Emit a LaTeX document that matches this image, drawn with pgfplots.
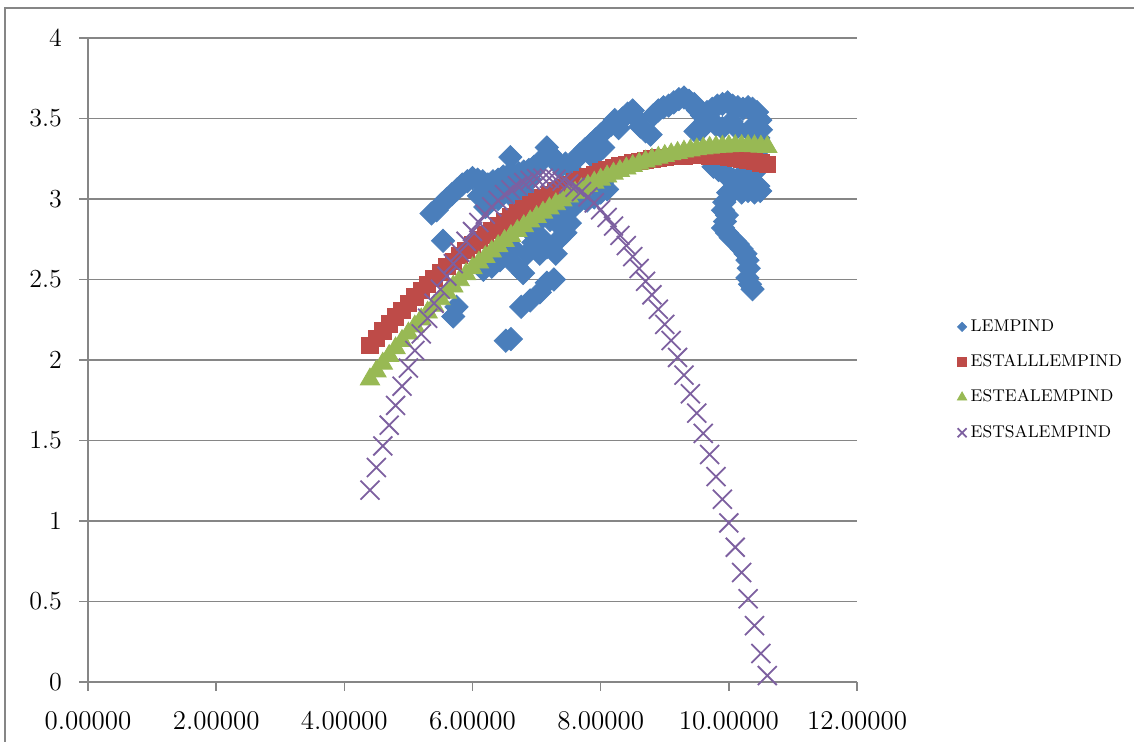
\documentclass[border=0pt]{standalone}
\usepackage{fontspec}
\usepackage{pgfplots}
\pgfplotsset{compat=1.18}
\definecolor{cblue}{HTML}{4A7EBB}
\definecolor{cred}{HTML}{BE4B48}
\definecolor{cgreen}{HTML}{98B954}
\definecolor{cpurple}{HTML}{7D60A0}
\definecolor{cgrid}{HTML}{868686}
\begin{document}
\begin{tikzpicture}
\path[use as bounding box] (0,0) rectangle (567pt,371pt);
\draw[cgrid, line width=0.8pt] (2.5pt,-5pt) -- (2.5pt,367pt) -- (570pt,367pt);
\begin{axis}[
  at={(44pt,30pt)}, anchor=south west,
  scale only axis, width=384.5pt, height=322pt,
  xmin=0, xmax=12, ymin=0, ymax=4,
  xtick={0,2,4,6,8,10,12}, ytick={0,0.5,1,1.5,2,2.5,3,3.5,4},
  axis x line*=bottom, axis y line*=left,
  axis line style={cgrid, line width=0.75pt},
  ymajorgrids, grid style={cgrid, line width=0.75pt},
  tick align=outside, major tick length=4.5pt,
  tick style={cgrid, line width=0.75pt},
  tick label style={font=\fontsize{13}{15}\selectfont},
  /pgf/number format/assume math mode=true,
  xticklabel style={yshift=-6.5pt, font=\fontsize{13.5}{15}\selectfont, /pgf/number format/.cd, fixed, fixed zerofill, precision=5, assume math mode=true},
  yticklabel style={xshift=-5pt, /pgf/number format/.cd, fixed, assume math mode=true},
  clip=false,
  legend style={at={(1.13,0.469)}, anchor=west, draw=none, fill=none, inner sep=0pt,
    font=\fontsize{8.5}{10}\selectfont, row sep=6.1pt, cells={anchor=west}},
  legend cell align=left,
]
\addplot[only marks, mark=square*, mark size=4.1pt, mark options={rotate=45, draw=cblue, fill=cblue},
  legend image code/.code={\draw[draw=cblue, fill=cblue, mark=square*, mark size=1.6pt, mark options={rotate=45}] plot coordinates {(0pt,0pt)};}]
coordinates {
(5.36,2.91) (5.44,2.93) (5.52,2.97) (5.60,3.00) (5.68,3.03) (5.76,3.06) (5.84,3.09) (5.92,3.11)
(6.00,3.13) (6.08,3.12) (6.16,3.11) (6.24,3.09) (6.32,3.11) (6.40,3.12) (6.48,3.14) (6.56,3.15)
(6.59,3.26) (6.64,3.15) (6.72,3.16) (6.80,3.17) (6.88,3.18) (6.96,3.20) (7.04,3.22) (7.12,3.26)
(7.16,3.32) (7.21,3.28) (7.28,3.25) (7.37,3.20) (7.45,3.22) (7.52,3.19) (7.60,3.24) (7.68,3.28)
(7.76,3.31) (7.84,3.34) (7.88,3.26) (7.92,3.37) (8.00,3.40) (8.04,3.32) (8.08,3.43) (8.16,3.46)
(8.22,3.49) (8.28,3.44) (8.34,3.50) (8.42,3.53) (8.50,3.55) (8.56,3.50) (8.62,3.45) (8.70,3.42)
(8.78,3.40) (8.82,3.52) (8.90,3.55) (8.98,3.57) (9.06,3.58) (9.14,3.60) (9.22,3.62) (9.30,3.63)
(9.38,3.61) (9.46,3.59) (9.52,3.55) (9.58,3.52) (9.64,3.49) (9.56,3.43) (9.48,3.42) (9.66,3.54)
(9.74,3.56) (9.82,3.58) (9.90,3.59) (9.98,3.60) (10.06,3.58) (10.14,3.57) (10.22,3.56) (10.30,3.57)
(10.37,3.56) (10.44,3.54) (10.49,3.49) (10.50,3.43) (10.46,3.38) (10.38,3.40) (9.80,3.46) (9.90,3.44)
(10.04,3.48) (10.12,3.44) (10.40,3.46) (10.46,3.30)
(9.84,3.18) (9.92,3.16) (10.00,3.14) (10.07,3.12) (10.15,3.13) (10.22,3.15) (10.30,3.12) (10.38,3.10)
(10.46,3.08) (10.49,3.05) (10.40,3.04) (10.30,3.05) (10.20,3.04) (10.10,3.06) (9.99,3.04) (9.93,2.98)
(9.76,3.20) (10.44,3.18) (10.36,3.22)
(9.91,2.93) (9.97,2.90) (9.94,2.86) (9.91,2.82) (9.97,2.79) (10.03,2.76) (10.09,2.74) (10.14,2.72)
(10.20,2.69) (10.26,2.66) (10.29,2.62) (10.31,2.57) (10.29,2.51) (10.33,2.47) (10.37,2.44)
(6.17,2.56) (6.30,2.58) (6.43,2.62) (6.55,2.66) (6.62,2.70) (6.69,2.58) (6.79,2.54) (6.85,2.66)
(6.95,2.73) (7.05,2.77) (7.05,2.66) (7.16,2.70) (7.21,2.87) (7.30,2.66) (7.35,2.75) (7.32,2.85)
(7.45,2.79) (7.52,2.85) (7.47,2.91) (7.58,2.95) (7.68,2.99) (7.79,2.99) (7.90,3.01) (8.00,3.04)
(8.10,3.06) (8.02,3.10) (7.70,3.04) (7.40,2.95) (7.00,2.85) (6.90,2.80) (6.20,2.95) (6.40,3.00)
(6.60,3.02) (6.80,3.05) (6.10,3.02) (6.30,3.04) (6.50,3.06) (6.70,3.10) (6.90,3.12)
(7.16,2.48) (7.27,2.50) (7.05,2.42) (6.90,2.37) (6.76,2.33) (6.52,2.12)
(6.60,2.13) (5.75,2.33) (5.70,2.27) (5.54,2.74)
};
\addlegendentry{LEMPIND}
\addplot[only marks, mark=square*, mark size=4.1pt, mark options={draw=cred, fill=cred},
  legend image code/.code={\draw[draw=cred, fill=cred, mark=square*, mark size=2.3pt] plot coordinates {(0pt,0pt)};}]
coordinates {
(4.4,2.089) (4.5,2.135) (4.6,2.180) (4.7,2.224) (4.8,2.267) (4.9,2.309) (5.0,2.351) (5.1,2.391)
(5.2,2.431) (5.3,2.469) (5.4,2.507) (5.5,2.544) (5.6,2.580) (5.7,2.614) (5.8,2.649) (5.9,2.682)
(6.0,2.714) (6.1,2.745) (6.2,2.776) (6.3,2.805) (6.4,2.834) (6.5,2.861) (6.6,2.888) (6.7,2.914)
(6.8,2.939) (6.9,2.963) (7.0,2.986) (7.1,3.009) (7.2,3.030) (7.3,3.050) (7.4,3.070) (7.5,3.088)
(7.6,3.106) (7.7,3.123) (7.8,3.139) (7.9,3.154) (8.0,3.168) (8.1,3.181) (8.2,3.193) (8.3,3.205)
(8.4,3.215) (8.5,3.225) (8.6,3.233) (8.7,3.241) (8.8,3.248) (8.9,3.254) (9.0,3.259) (9.1,3.263)
(9.2,3.266) (9.3,3.268) (9.4,3.270) (9.5,3.270) (9.6,3.270) (9.7,3.268) (9.8,3.266) (9.9,3.263)
(10.0,3.259) (10.1,3.254) (10.2,3.248) (10.3,3.241) (10.4,3.233) (10.5,3.225) (10.6,3.215)
};
\addlegendentry{ESTALLLEMPIND}
\addplot[only marks, mark=triangle*, mark size=5.6pt, mark options={draw=cgreen, fill=cgreen},
  legend image code/.code={\draw[draw=cgreen, fill=cgreen, mark=triangle*, mark size=2.7pt] plot coordinates {(0pt,0pt)};}]
coordinates {
(4.4,1.880) (4.5,1.930) (4.6,1.978) (4.7,2.026) (4.8,2.073) (4.9,2.119) (5.0,2.165) (5.1,2.209)
(5.2,2.253) (5.3,2.295) (5.4,2.337) (5.5,2.378) (5.6,2.418) (5.7,2.457) (5.8,2.496) (5.9,2.533)
(6.0,2.570) (6.1,2.606) (6.2,2.640) (6.3,2.674) (6.4,2.708) (6.5,2.740) (6.6,2.771) (6.7,2.802)
(6.8,2.832) (6.9,2.861) (7.0,2.889) (7.1,2.916) (7.2,2.942) (7.3,2.968) (7.4,2.992) (7.5,3.016)
(7.6,3.039) (7.7,3.061) (7.8,3.082) (7.9,3.102) (8.0,3.121) (8.1,3.140) (8.2,3.158) (8.3,3.174)
(8.4,3.190) (8.5,3.205) (8.6,3.220) (8.7,3.233) (8.8,3.246) (8.9,3.257) (9.0,3.268) (9.1,3.278)
(9.2,3.287) (9.3,3.295) (9.4,3.302) (9.5,3.309) (9.6,3.315) (9.7,3.319) (9.8,3.323) (9.9,3.326)
(10.0,3.328) (10.1,3.330) (10.2,3.330) (10.3,3.330) (10.4,3.328) (10.5,3.326) (10.6,3.323)
};
\addlegendentry{ESTEALEMPIND}
\addplot[only marks, mark=x, mark size=6.7pt, mark options={draw=cpurple, line width=0.9pt},
  legend image code/.code={\draw[draw=cpurple, line width=0.7pt, mark=x, mark size=3.2pt] plot coordinates {(0pt,0pt)};}]
coordinates {
(4.4,1.192) (4.5,1.332) (4.6,1.466) (4.7,1.595) (4.8,1.718) (4.9,1.837) (5.0,1.950) (5.1,2.059)
(5.2,2.162) (5.3,2.259) (5.4,2.352) (5.5,2.439) (5.6,2.521) (5.7,2.598) (5.8,2.670) (5.9,2.737)
(6.0,2.798) (6.1,2.854) (6.2,2.905) (6.3,2.951) (6.4,2.991) (6.5,3.027) (6.6,3.057) (6.7,3.082)
(6.8,3.102) (6.9,3.116) (7.0,3.126) (7.1,3.130) (7.2,3.129) (7.3,3.122) (7.4,3.111) (7.5,3.094)
(7.6,3.073) (7.7,3.046) (7.8,3.013) (7.9,2.976) (8.0,2.933) (8.1,2.885) (8.2,2.832) (8.3,2.774)
(8.4,2.711) (8.5,2.642) (8.6,2.568) (8.7,2.489) (8.8,2.405) (8.9,2.315) (9.0,2.221) (9.1,2.121)
(9.2,2.016) (9.3,1.906) (9.4,1.790) (9.5,1.670) (9.6,1.544) (9.7,1.413) (9.8,1.276) (9.9,1.135)
(10.0,0.988) (10.1,0.837) (10.2,0.680) (10.3,0.517) (10.4,0.350) (10.5,0.177) (10.6,0.040)
};
\addlegendentry{ESTSALEMPIND}
\end{axis}
\end{tikzpicture}
\end{document}
